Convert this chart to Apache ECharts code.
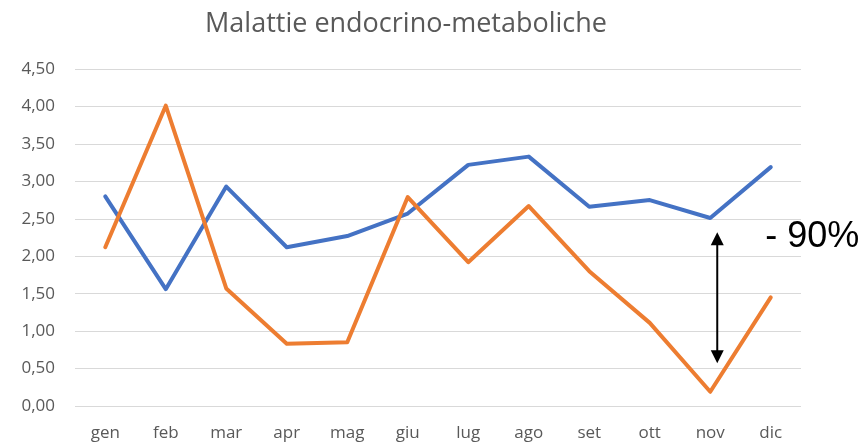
<!DOCTYPE html>
<html>
<head>
<meta charset="utf-8">
<script src="https://cdn.jsdelivr.net/npm/echarts@6/dist/echarts.min.js"></script>
<style>
  html, body { margin: 0; padding: 0; background: #fff; }
</style>
</head>
<body>
<div id="chart" style="width: 863px; height: 444px"></div>
<script>
const months = ['gen', 'feb', 'mar', 'apr', 'mag', 'giu', 'lug', 'ago', 'set', 'ott', 'nov', 'dic'];
const blueValues = [2.80, 1.56, 2.93, 2.12, 2.27, 2.57, 3.22, 3.33, 2.66, 2.75, 2.51, 3.19];
const orangeValues = [2.12, 4.01, 1.57, 0.83, 0.85, 2.79, 1.92, 2.67, 1.80, 1.11, 0.19, 1.45];
// arrow annotation between the two lines in november
const arrowMonth = 'nov';
const arrowRange = [2.32, 0.57];
const arrowLabel = '- 90%';

let myChart = echarts.init(document.getElementById('chart'));

myChart.setOption({
  animation: false,
  title: {
    text: 'Malattie endocrino-metaboliche',
    left: 401,
    top: 6,
    textAlign: 'center',
    textStyle: {
      color: '#595959',
      fontFamily: 'Open Sans',
      fontWeight: 'normal',
      fontSize: 27
    }
  },
  grid: {
    left: 75,
    right: 62,
    top: 69,
    bottom: 38
  },
  xAxis: {
    type: 'category',
    data: months,
    boundaryGap: true,
    axisLine: { show: false },
    axisTick: { show: false },
    axisLabel: {
      color: '#595959',
      fontFamily: 'Open Sans',
      fontSize: 17,
      margin: 19
    }
  },
  yAxis: {
    type: 'value',
    min: 0,
    max: 4.5,
    interval: 0.5,
    axisLabel: {
      color: '#595959',
      fontFamily: 'Open Sans',
      fontSize: 17,
      margin: 20,
      formatter: v => v.toFixed(2).replace('.', ',')
    },
    splitLine: { lineStyle: { color: '#d9d9d9', width: 1 } }
  },
  series: [
    {
      type: 'line',
      data: blueValues,
      symbol: 'none',
      lineStyle: { color: '#4472C4', width: 4, cap: 'round', join: 'round' },
      itemStyle: { color: '#4472C4' }
    },
    {
      type: 'line',
      data: orangeValues,
      symbol: 'none',
      lineStyle: { color: '#ED7D31', width: 4, cap: 'round', join: 'round' },
      itemStyle: { color: '#ED7D31' }
    }
  ]
});

// place the arrow through the axes
let pTop = myChart.convertToPixel({ gridIndex: 0 }, [arrowMonth, arrowRange[0]]);
let pBottom = myChart.convertToPixel({ gridIndex: 0 }, [arrowMonth, arrowRange[1]]);
let ax = pTop[0] + 7;
let head = 13;
myChart.setOption({
  graphic: [
    {
      type: 'line',
      shape: { x1: ax, y1: pTop[1] + head - 1, x2: ax, y2: pBottom[1] - head + 1 },
      style: { stroke: '#000', lineWidth: 2 }
    },
    {
      type: 'polygon',
      shape: { points: [[ax, pTop[1]], [ax - 6.5, pTop[1] + head], [ax + 6.5, pTop[1] + head]] },
      style: { fill: '#000' }
    },
    {
      type: 'polygon',
      shape: { points: [[ax, pBottom[1]], [ax - 6.5, pBottom[1] - head], [ax + 6.5, pBottom[1] - head]] },
      style: { fill: '#000' }
    },
    {
      type: 'text',
      x: ax + 48,
      y: pTop[1] + 5,
      style: {
        text: arrowLabel,
        fill: '#000',
        font: '36px "Liberation Sans", Arial, sans-serif',
        verticalAlign: 'middle'
      }
    }
  ]
});
</script>
</body>
</html>
